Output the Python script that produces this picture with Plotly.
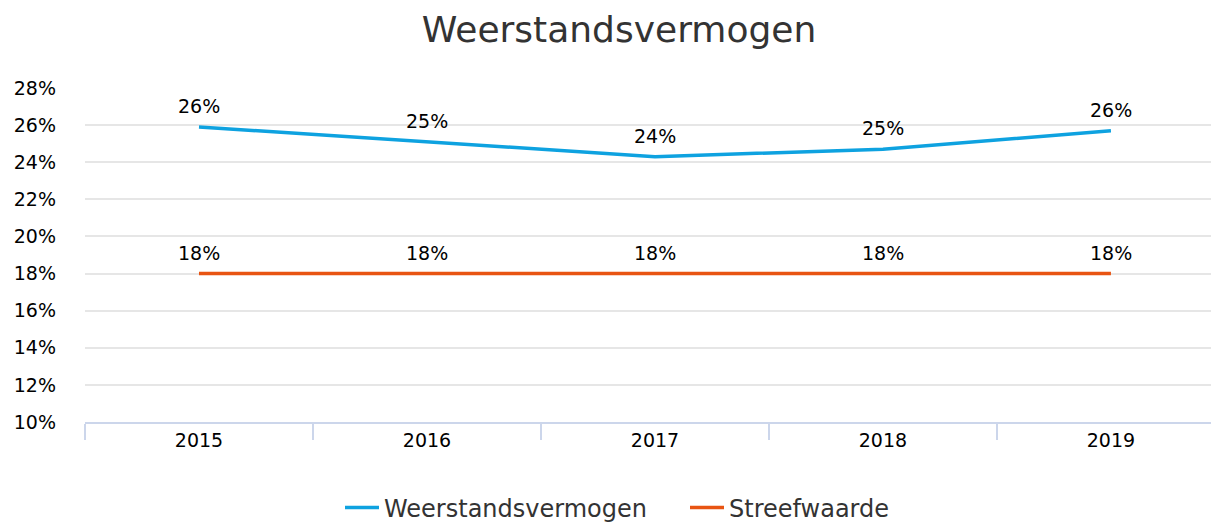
import plotly.graph_objects as go

years = ["2015", "2016", "2017", "2018", "2019"]
weerstand = [25.9, 25.1, 24.3, 24.7, 25.7]
weerstand_labels = ["26%", "25%", "24%", "25%", "26%"]
streef = [18.0, 18.0, 18.0, 18.0, 18.0]
streef_labels = ["18%", "18%", "18%", "18%", "18%"]
y_ticks = [10, 12, 14, 16, 18, 20, 22, 24, 26, 28]
y_tick_text = [f"{v}%" for v in y_ticks]

FONT = "DejaVu Sans, Verdana, sans-serif"

# the page places the figure 8px in from the top-left corner
W, H = 1211, 516
L, T, B = 77, 80, 102

fig = go.Figure()
fig.add_trace(go.Scatter(
    x=years, y=weerstand, name="Weerstandsvermogen", mode="lines",
    line=dict(color="#0ea2e0", width=3.5), cliponaxis=False,
))
fig.add_trace(go.Scatter(
    x=years, y=streef, name="Streefwaarde", mode="lines",
    line=dict(color="#e85412", width=3.5), cliponaxis=False,
))

for ys, labels in [(weerstand, weerstand_labels), (streef, streef_labels)]:
    for i, (yv, tv) in enumerate(zip(ys, labels)):
        fig.add_annotation(x=i, y=yv, xref="x", yref="y", text=tv,
                           showarrow=False, yshift=21, visible=True,
                           font=dict(size=19, color="black"))

fig.update_layout(
    width=W, height=H,
    paper_bgcolor="white", plot_bgcolor="white",
    font=dict(family=FONT, color="#000000", size=19),
    title=dict(text="Weerstandsvermogen", x=(619 - 8) / W, xanchor="center",
               y=1 - 21 / H, yanchor="middle",
               font=dict(size=36, color="#333333", family=FONT)),
    margin=dict(l=L, r=0, t=T, b=B, autoexpand=False),
    showlegend=True,
    legend=dict(orientation="h", x=(340 - 85) / 1134, xanchor="left",
                y=-(508 - 8 - (H - B)) / (H - B - T), yanchor="middle",
                font=dict(size=24, color="#333333", family=FONT),
                itemwidth=34,
                entrywidth=296, entrywidthmode="pixels", traceorder="normal"),
)
fig.update_xaxes(
    type="category", range=[-0.5, 4.474], automargin=False,
    showgrid=False, showline=True, linecolor="#ccd6eb", linewidth=2,
    ticks="outside", tickson="boundaries", ticklen=16, tickcolor="#ccd6eb", tickwidth=2,
    tickfont=dict(size=19, color="#000000"), zeroline=False,
)
fig.update_yaxes(
    range=[10, 28], tickvals=y_ticks, ticktext=y_tick_text, automargin=False,
    showgrid=True, gridcolor="#e6e6e6", gridwidth=2, zeroline=False,
    showline=False, ticks="", ticklabelstandoff=28,
    tickfont=dict(size=19, color="#000000"),
)

fig.write_html("out.html")
